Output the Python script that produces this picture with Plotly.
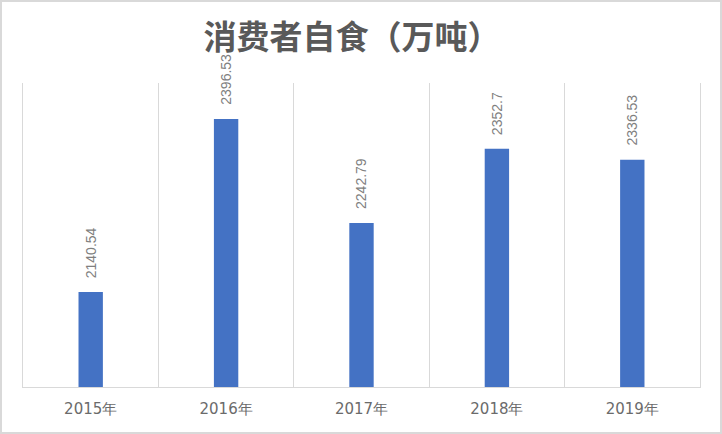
import plotly.graph_objects as go

categories = ["2015年", "2016年", "2017年", "2018年", "2019年"]
values = [2140.54, 2396.53, 2242.79, 2352.7, 2336.53]
labels = ["2140.54", "2396.53", "2242.79", "2352.7", "2336.53"]

fig = go.Figure()
fig.add_trace(go.Bar(
    x=categories, y=values,
    marker=dict(color="#4472C4", line=dict(width=0)),
    width=0.18, cliponaxis=False, hoverinfo="x+y",
))

for c, v, t in zip(categories, values, labels):
    fig.add_annotation(x=c, y=v, text=t, textangle=-90, showarrow=False,
                       yanchor="bottom", xanchor="center", yshift=12,
                       font=dict(family="Liberation Sans", size=14, color="#7f7f7f"))

fig.update_layout(
    width=722, height=434,
    margin=dict(l=23, r=22, t=83, b=47),
    paper_bgcolor="white", plot_bgcolor="white",
    showlegend=False,
    title=dict(text="<b>消费者自食（万吨）</b>", x=352 / 722, xref="container", xanchor="center",
               y=1 - 37 / 434, yref="container", yanchor="middle",
               font=dict(family="Noto Sans CJK SC", size=33, color="#595959")),
    xaxis=dict(type="category", tickson="boundaries", showgrid=True, gridcolor="#d9d9d9",
               gridwidth=1, showline=True, linecolor="#d9d9d9", linewidth=1,
               ticks="", ticklabelstandoff=8,
               tickfont=dict(family="DejaVu Sans", size=15, color="#6b6b6b")),
    yaxis=dict(range=[2000, 2450], showgrid=False, showticklabels=False, zeroline=False,
               showline=True, mirror=True, linecolor="#d9d9d9", linewidth=1, ticks=""),
    shapes=[dict(type="rect", xref="paper", yref="paper",
                 x0=(1 - 23) / 677, x1=(721 - 23) / 677,
                 y0=(387 - 433) / 304, y1=(387 - 1) / 304,
                 line=dict(color="#d9d9d9", width=2), fillcolor="rgba(0,0,0,0)", layer="below")],
)

fig.write_html("out.html", config={"displayModeBar": False},
               post_script="document.body.style.margin='0';")
